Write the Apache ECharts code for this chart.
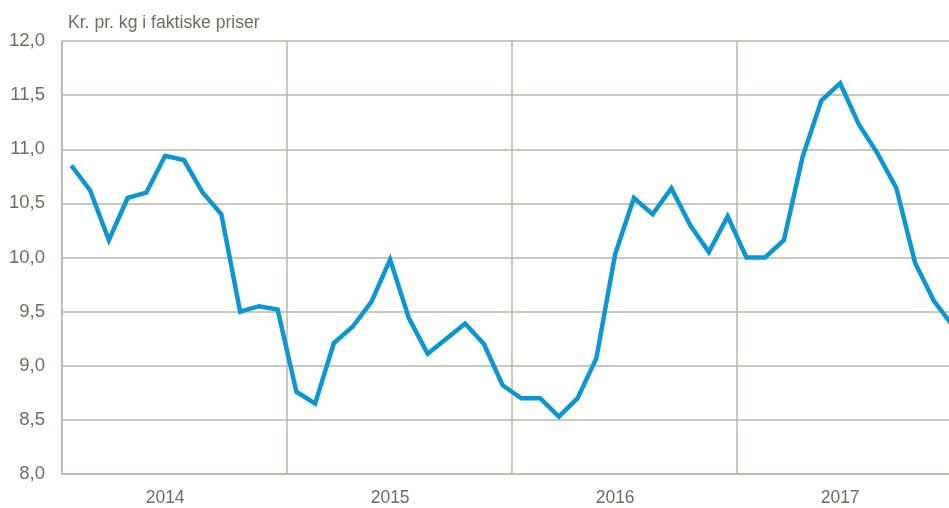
<!DOCTYPE html>
<html>
<head>
<meta charset="utf-8">
<script src="https://cdn.jsdelivr.net/npm/echarts@6/dist/echarts.min.js"></script>
<style>
html,body{margin:0;padding:0;background:#fff;overflow:hidden;width:949px;height:508px;}
#c{width:962px;height:508px;}
</style>
</head>
<body>
<div id="c"></div>
<script>
var years = ['2014', '2015', '2016', '2017'];
var months = ['01','02','03','04','05','06','07','08','09','10','11','12'];
var prices = [
  10.85, 10.62, 10.16, 10.55, 10.60, 10.94, 10.90, 10.60, 10.40, 9.50, 9.55, 9.52,
  8.76, 8.65, 9.21, 9.36, 9.59, 9.98, 9.44, 9.11, 9.25, 9.39, 9.20, 8.82,
  8.70, 8.70, 8.53, 8.70, 9.07, 10.03, 10.55, 10.40, 10.64, 10.30, 10.05, 10.38,
  10.00, 10.00, 10.16, 10.93, 11.45, 11.61, 11.23, 10.96, 10.64, 9.95, 9.60, 9.37
];
var yTicks = { min: 8, max: 12, interval: 0.5 };
var titleText = 'Kr. pr. kg i faktiske priser';

var categories = [];
years.forEach(function (y) { months.forEach(function (m) { categories.push(y + '-' + m); }); });

var textColor = '#6e6d60';
var gridColor = '#b9b7a9';
var font = '"Liberation Sans", Arial, sans-serif';

var chart = echarts.init(document.getElementById('c'));
chart.setOption({
  animation: false,
  backgroundColor: '#ffffff',
  title: {
    text: titleText,
    left: 63,
    top: 9,
    textStyle: { color: textColor, fontSize: 17.6, fontWeight: 'normal', fontFamily: font }
  },
  grid: { left: 62, top: 41, bottom: 34, right: 0, containLabel: false },
  xAxis: {
    type: 'category',
    data: categories,
    boundaryGap: true,
    axisLine: { show: true, lineStyle: { color: gridColor, width: 1.5 } },
    axisTick: { show: false },
    axisLabel: {
      interval: function (i) { return i % 12 === 5; },
      formatter: function (v) { return v.slice(0, 4); },
      color: textColor,
      fontSize: 17.5,
      fontFamily: font,
      margin: 15
    },
    splitLine: {
      show: true,
      interval: function (i) { return i % 12 === 0; },
      lineStyle: { color: gridColor, width: 1.5 }
    }
  },
  yAxis: {
    type: 'value',
    min: yTicks.min,
    max: yTicks.max,
    interval: yTicks.interval,
    axisLine: { show: true, lineStyle: { color: gridColor, width: 1.5 } },
    axisTick: { show: false },
    axisLabel: {
      color: textColor,
      fontSize: 18.5,
      fontFamily: font,
      margin: 17,
      formatter: function (v) { return v.toFixed(1).replace('.', ','); }
    },
    splitLine: { show: true, lineStyle: { color: gridColor, width: 1.5 } }
  },
  series: [{
    type: 'line',
    data: prices,
    symbol: 'none',
    lineStyle: { color: '#0b96d4', width: 4.5, join: 'miter' },
    itemStyle: { color: '#0b96d4' }
  }]
});
</script>
</body>
</html>
